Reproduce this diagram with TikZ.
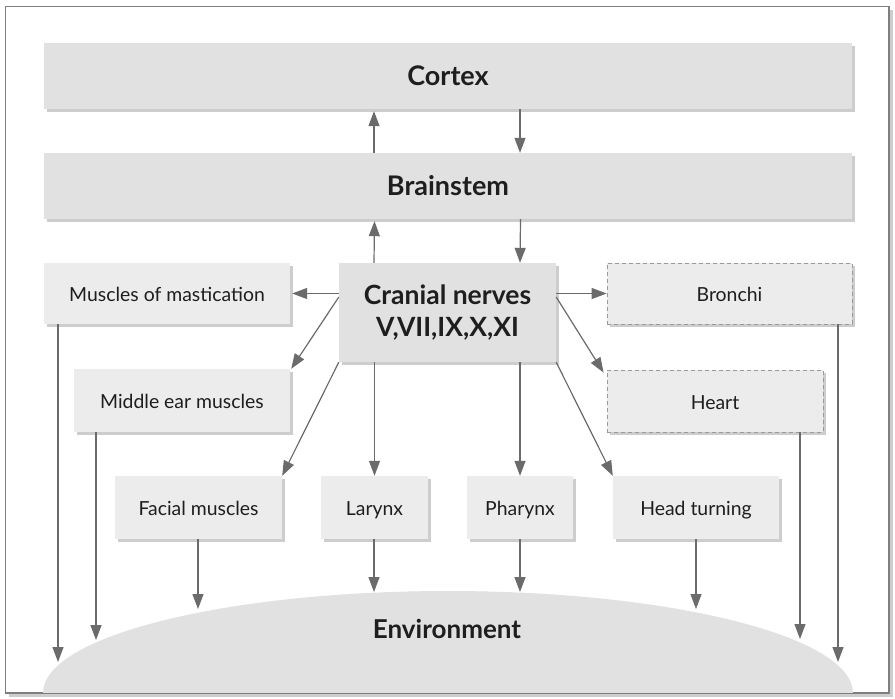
\documentclass[tikz,border=0pt]{standalone}
\usepackage{fontspec}
\setmainfont{Lato}
\usetikzlibrary{arrows.meta,shadows}
\definecolor{boxdark}{HTML}{E1E1E1}
\definecolor{boxlight}{HTML}{ECECEC}
\definecolor{shadowc}{HTML}{CDCDCD}
\definecolor{arrowc}{HTML}{6B6B6B}
\definecolor{framec}{HTML}{7F7F7F}
\definecolor{dashc}{HTML}{9A9A9A}
\definecolor{textc}{HTML}{1E1E1E}
\begin{document}
\begin{tikzpicture}[x=1pt,y=-1pt,
  shad/.style={drop shadow={shadow xshift=2.5pt,shadow yshift=-2.5pt,fill=shadowc,draw=none,opacity=1}},
  bigbox/.style={shad,fill=boxdark,minimum width=808pt,minimum height=66pt,inner sep=0pt,text=textc,
    font=\fontsize{27}{30}\selectfont\bfseries},
  smallbox/.style={shad,fill=boxlight,inner sep=0pt,text=textc,minimum height=62pt,
    text height=16.5pt,text depth=0pt,
    font=\fontsize{19.4}{23}\selectfont},
  dashbox/.style={smallbox,draw=dashc,dash pattern=on 4pt off 3pt,line width=0.8pt},
  arr/.style={draw=arrowc,line width=1.2pt,-{Triangle[length=15pt,width=11pt]}}]
\useasboundingbox (0,0) rectangle (895,699);
% frame
\fill[shadowc] (8.5,9.5) rectangle (892.5,696.5);
\draw[framec,fill=white,line width=1.2pt] (5.5,6.5) rectangle (889,693);
% environment ellipse
\begin{scope}
\clip (5.5,6.5) rectangle (889,692.4);
\fill[boxdark] (448,693) ellipse [x radius=405, y radius=102];
\end{scope}
\node[text=textc,font=\fontsize{26}{30}\selectfont\bfseries] (env) at (447,629) {Environment};
% boxes
\node[bigbox] (cortex) at (448,76) {Cortex};
\node[bigbox] (brain) at (448,186) {Brainstem};
\node[bigbox,minimum width=217pt,minimum height=99pt,align=center,
  font=\fontsize{26.5}{32}\selectfont\bfseries] (cran) at (447.5,312.5) {Cranial nerves\\V,VII,IX,X,XI};
\node[smallbox,minimum width=246pt,minimum height=61pt] (mast) at (167,293.5) {Muscles of mastication};
\node[dashbox,minimum width=245pt,minimum height=61pt] (bron) at (729.5,293.5) {Bronchi};
\node[smallbox,minimum width=216pt,minimum height=63pt] (mid) at (182,400.5) {Middle ear muscles};
\node[dashbox,minimum width=216pt,minimum height=62pt] (heart) at (715,401) {Heart};
\node[smallbox,minimum width=167pt,minimum height=63pt] (fac) at (198.5,507.5) {Facial muscles};
\node[smallbox,minimum width=107pt,minimum height=63pt] (lar) at (374.5,507.5) {Larynx};
\node[smallbox,minimum width=106pt,minimum height=63pt] (pha) at (520,507.5) {Pharynx};
\node[smallbox,minimum width=166pt,minimum height=63pt] (head) at (696,507.5) {Head turning};
% environment end points
\coordinate (e1) at (58,662);
\coordinate (e2) at (96,640);
\coordinate (e3) at (198,609);
\coordinate (e4) at (374,592);
\coordinate (e5) at (520,592);
\coordinate (e6) at (696,609);
\coordinate (e7) at (800,639);
\coordinate (e8) at (838,662);
% arrows between cortex, brainstem, cranial nerves
\draw[arr] ([xshift=-74pt]brain.north) -- ([xshift=-74pt,yshift=-2pt]cortex.south);
\draw[arr] ([xshift=72pt]cortex.south) -- ([xshift=72pt]brain.north);
\draw[arr] ([xshift=-73.5pt]cran.north) -- ([xshift=-73.5pt,yshift=-2pt]brain.south);
\draw[arr] ([xshift=72.5pt]brain.south) -- ([xshift=72.5pt]cran.north);
% from cranial nerves
\draw[arr] (cran.west |- mast.east) -- ([xshift=2pt]mast.east);
\draw[arr] (cran.east |- bron.west) -- (bron.west);
\draw[arr] ([yshift=15.5pt]cran.west) -- ([xshift=1pt]mid.north east);
\draw[arr] ([yshift=15.5pt]cran.east) -- ([xshift=-3pt,yshift=-3pt]heart.north west);
\draw[arr] (cran.south west) -- (fac.north east);
\draw[arr] (cran.south east) -- (head.north west);
\draw[arr] (cran.south -| lar.north) -- (lar.north);
\draw[arr] (cran.south -| pha.north) -- (pha.north);
% to environment
\draw[arr] (mast.south -| e1) -- (e1);
\draw[arr] (mid.south -| e2) -- (e2);
\draw[arr] (fac.south -| e3) -- (e3);
\draw[arr] (lar.south -| e4) -- (e4);
\draw[arr] (pha.south -| e5) -- (e5);
\draw[arr] (head.south -| e6) -- (e6);
\draw[arr] (heart.south -| e7) -- (e7);
\draw[arr] (bron.south -| e8) -- (e8);
\end{tikzpicture}
\end{document}
